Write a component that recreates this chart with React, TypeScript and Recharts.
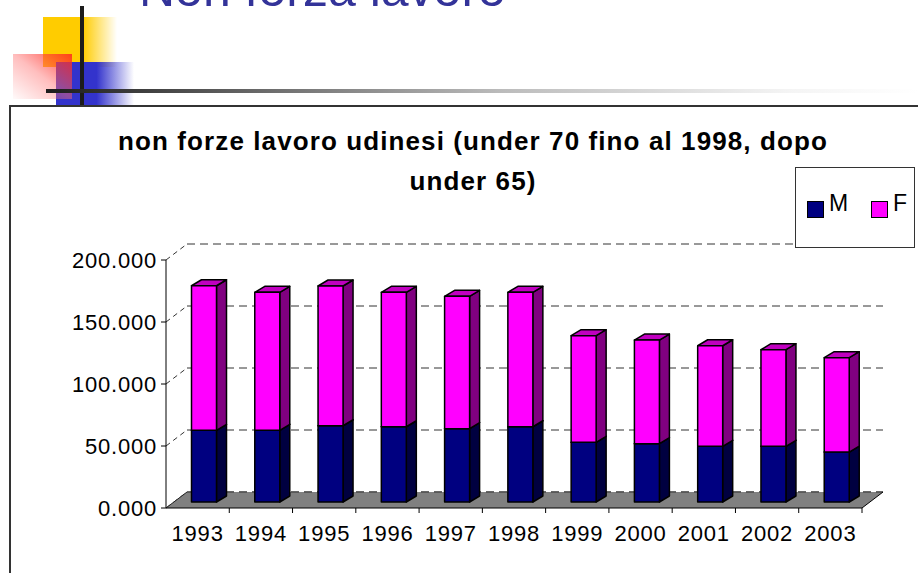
import { BarChart, Bar, XAxis, YAxis, CartesianGrid, Legend, ReferenceArea } from 'recharts';

const anni = ['1993', '1994', '1995', '1996', '1997', '1998', '1999', '2000', '2001', '2002', '2003'];
const maschi = [57800, 57800, 61500, 60700, 59100, 60700, 48100, 47000, 44900, 44900, 40300];
const femmine = [116600, 111300, 112700, 108400, 106800, 108400, 86000, 83600, 81100, 77900, 76100];
const yTicks = [0, 50000, 100000, 150000, 200000];
const serie = ['M', 'F'];

const data = anni.map((anno, i) => ({ anno, M: maschi[i], F: femmine[i] }));

const FONT = '"Liberation Sans", Arial, sans-serif';
// finto 3D: profondità pavimento/parete e posizione delle barre a metà profondità
const DX = 21;
const DY = 16;
const BAR_DX = 6.5;
const BAR_DY = 6;
const BOX_DX = 10;
const BOX_DY = 6;
const PLOT_W = 696;
const BAND = PLOT_W / anni.length;

const fmt = (v: number) => `${Math.floor(v / 1000)}.${String(v % 1000).padStart(3, '0')}`;

const Box3D = (props: any) => {
  const { x, y, width, height, front, side, top } = props;
  if (!height || height <= 0) return null;
  const X = x + BAR_DX;
  const Y = y - BAR_DY;
  const w = width;
  const h = height;
  return (
    <g stroke="#000" strokeWidth={1.5} strokeLinejoin="round">
      <polygon
        points={`${X + w},${Y} ${X + w + BOX_DX},${Y - BOX_DY} ${X + w + BOX_DX},${Y + h - BOX_DY} ${X + w},${Y + h}`}
        fill={side}
      />
      <polygon
        points={`${X},${Y} ${X + BOX_DX},${Y - BOX_DY} ${X + w + BOX_DX},${Y - BOX_DY} ${X + w},${Y}`}
        fill={top}
      />
      <rect x={X} y={Y} width={w} height={h} fill={front} />
    </g>
  );
};

const Floor = (props: any) => {
  const { x, y, width, height } = props;
  const b = y + height;
  const r = x + width;
  return (
    <g>
      <polygon points={`${x},${b} ${r},${b} ${r + DX},${b - DY} ${x + DX},${b - DY}`} fill="#808080" />
      <line x1={x + DX} y1={b - DY} x2={r + DX} y2={b - DY} stroke="#333" strokeDasharray="8 5" />
      <line x1={x} y1={b} x2={x + DX} y2={b - DY} stroke="#222" />
      <line x1={r} y1={b} x2={r + DX} y2={b - DY} stroke="#000" />
    </g>
  );
};

const gridLine = (p: any) => (
  <g key={p.key}>
    <line x1={p.x1} y1={p.y1} x2={p.x1 + DX} y2={p.y1 - DY} stroke="#333" strokeDasharray="5 4" />
    <line x1={p.x1 + DX} y1={p.y1 - DY} x2={p.x2 + DX} y2={p.y2 - DY} stroke="#333" strokeDasharray="8 5" />
  </g>
);

const XTick = ({ x, y, payload }: any) => (
  <g>
    <line x1={x + BAND / 2} y1={y} x2={x + BAND / 2} y2={y + 5} stroke="#000" />
    <text x={x} y={y + 33} textAnchor="middle" fill="#000" fontSize={22} fontFamily={FONT} letterSpacing={0.8}>
      {payload.value}
    </text>
  </g>
);

const LegendBox = ({ payload }: any) => {
  const items = [...(payload || [])].sort((a: any, b: any) => serie.indexOf(a.value) - serie.indexOf(b.value));
  return (
    <div
      style={{
        width: 120,
        height: 81,
        border: '1px solid #333',
        background: '#fff',
        boxSizing: 'border-box',
        position: 'relative',
        fontFamily: FONT,
        fontSize: 23,
        color: '#000',
      }}
    >
      {items.map((e: any, i: number) => (
        <div key={e.value}>
          <div
            style={{
              position: 'absolute',
              left: 11 + i * 64,
              top: 33,
              width: 17,
              height: 17,
              background: e.color,
              border: '1.5px solid #000',
              boxSizing: 'border-box',
            }}
          />
          <span style={{ position: 'absolute', left: 33 + i * 64, top: 24, lineHeight: '23px' }}>{e.value}</span>
        </div>
      ))}
    </div>
  );
};

export default function App() {
  return (
    <div style={{ position: 'absolute', left: 0, top: 0, width: 918, height: 573, overflow: 'hidden', background: '#fff' }}>
      {/* decorazione della diapositiva */}
      <div
        style={{
          position: 'absolute', left: 43, top: 17, width: 74, height: 50,
          background: 'linear-gradient(to right, #FFCC00 0%, #FFCC00 54%, rgba(255,204,0,0) 100%)',
        }}
      />
      <div
        style={{
          position: 'absolute', left: 56, top: 62, width: 78, height: 44,
          background: 'linear-gradient(to right, #3333CC 0%, #3333CC 52%, rgba(51,51,204,0) 100%)',
        }}
      />
      <div
        style={{
          position: 'absolute', left: 13, top: 54, width: 59, height: 45,
          background: 'linear-gradient(to bottom left, rgba(255,40,30,0.85) 0%, rgba(255,110,110,0.45) 50%, rgba(255,160,160,0.05) 100%)',
        }}
      />
      <div style={{ position: 'absolute', left: 80, top: 6, width: 4, height: 100, background: '#1c1c1c' }} />
      <div
        style={{
          position: 'absolute', left: 46, top: 89, width: 872, height: 4,
          background: 'linear-gradient(to right, #1c1c1c 0%, #777 29%, #bbb 52%, #f4f4f4 85%, #fff 100%)',
        }}
      />
      <svg style={{ position: 'absolute', left: 0, top: 0 }} width={918} height={20}>
        <text x={139} y={5.5} fill="#333399" fontSize={50} fontFamily={FONT}>
          Non forza lavoro
        </text>
      </svg>

      {/* riquadro del grafico */}
      <div
        style={{
          position: 'absolute', left: 9, top: 105, width: 940, height: 520,
          border: '2px solid #333', boxSizing: 'border-box',
        }}
      />
      <svg style={{ position: 'absolute', left: 0, top: 0 }} width={918} height={200}>
        <text x={473} y={149.5} textAnchor="middle" fontSize={26} fontWeight="bold" fontFamily={FONT} letterSpacing={1.1}>
          non forze lavoro udinesi (under 70 fino al 1998, dopo
        </text>
        <text x={473} y={189.5} textAnchor="middle" fontSize={26} fontWeight="bold" fontFamily={FONT} letterSpacing={1.1}>
          under 65)
        </text>
      </svg>

      <div style={{ position: 'absolute', left: 0, top: 0 }}>
        <BarChart width={918} height={573} data={data} margin={{ top: 260, right: 56, bottom: 35, left: 86 }} barSize={25}>
          <CartesianGrid vertical={false} horizontal={gridLine} />
          <ReferenceArea y1={0} y2={200000} shape={(p: any) => <Floor {...p} />} ifOverflow="visible" />
          <XAxis
            dataKey="anno"
            height={30}
            tickSize={0}
            tickMargin={0}
            tickLine={false}
            axisLine={{ stroke: '#000' }}
            tick={<XTick />}
            interval={0}
          />
          <YAxis
            width={80}
            domain={[0, 200000]}
            ticks={yTicks}
            tickFormatter={fmt}
            tickSize={5}
            tickMargin={4}
            axisLine={{ stroke: '#000' }}
            tickLine={{ stroke: '#000' }}
            tick={{ fill: '#000', fontSize: 22, fontFamily: FONT, letterSpacing: 0.8 }}
          />
          <Legend
            layout="horizontal"
            verticalAlign="middle"
            align="center"
            content={LegendBox}
            wrapperStyle={{ left: 795, top: 167, width: 120, height: 81 }}
          />
          <Bar
            dataKey="M"
            name="M"
            stackId="a"
            fill="#000080"
            isAnimationActive={false}
            shape={(p: any) => <Box3D {...p} front="#000080" side="#000040" top="#000060" />}
          />
          <Bar
            dataKey="F"
            name="F"
            stackId="a"
            fill="#FF00FF"
            isAnimationActive={false}
            shape={(p: any) => <Box3D {...p} front="#FF00FF" side="#800080" top="#C000C0" />}
          />
        </BarChart>
      </div>
    </div>
  );
}
